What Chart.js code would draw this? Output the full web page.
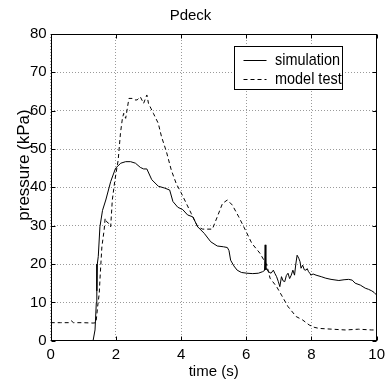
<!DOCTYPE html>
<html><head><meta charset="utf-8">
<script src="https://cdn.jsdelivr.net/npm/chart.js@4/dist/chart.umd.min.js"></script>
<style>html,body{margin:0;padding:0;background:#fff;}#wrap{width:390px;height:382px;}</style>
</head><body><div id="wrap"><canvas id="c" width="390" height="382"></canvas></div>
<script>
const TITLE = 'Pdeck';
const X_LABEL = 'time (s)';
const Y_LABEL = 'pressure (kPa)';
const SERIES_NAMES = ['simulation', 'model test'];
const X_TICKS = [0, 2, 4, 6, 8, 10];
const Y_TICKS = [0, 10, 20, 30, 40, 50, 60, 70, 80];

const simTime = [0, 1.3, 1.36, 1.40, 1.41, 1.42, 1.43, 1.46, 1.51, 1.59, 1.69, 1.84, 1.99, 2.15, 2.3, 2.45, 2.6, 2.75, 2.85, 2.95, 3.1, 3.3, 3.5, 3.65, 3.75, 3.9, 4.05, 4.2, 4.36, 4.51, 4.71, 4.91, 5.11, 5.3, 5.42, 5.47, 5.52, 5.62, 5.72, 5.85, 6.02, 6.2, 6.37, 6.5, 6.56, 6.58, 6.6, 6.62, 6.68, 6.76, 6.83, 6.88, 6.93, 6.98, 7.03, 7.08, 7.13, 7.18, 7.23, 7.28, 7.33, 7.38, 7.43, 7.48, 7.52, 7.56, 7.61, 7.65, 7.68, 7.73, 7.78, 7.83, 7.87, 7.91, 7.95, 7.98, 8.05, 8.14, 8.3, 8.44, 8.6, 8.84, 9.0, 9.14, 9.25, 9.34, 9.5, 9.65, 9.75, 9.85, 9.92, 10];
const simPressure = [0, 0, 2.8, 10, 20, 13, 20, 22, 29.7, 34, 36.7, 41.5, 45, 46.3, 46.7, 46.7, 46.3, 45.2, 44.8, 44.8, 42, 40.3, 39.8, 39.3, 36.3, 34.8, 34.2, 32.8, 32.3, 29.7, 28, 25.8, 24.7, 24.5, 24.3, 23.5, 21, 19.5, 18.4, 17.8, 17.6, 17.5, 17.6, 18, 18.3, 25, 18.5, 18.8, 18, 17.6, 18.4, 17.5, 16.7, 15.5, 14.1, 16.7, 15.6, 15.4, 17, 17.6, 16.2, 17.1, 18.4, 17.1, 20, 22.3, 21.5, 20.6, 18.9, 19.7, 18.5, 18.4, 18.8, 18, 17.6, 17.1, 17.4, 17.1, 16.7, 16.3, 16, 15.7, 15.9, 16, 15.8, 15, 14.5, 13.7, 13.4, 13, 12.6, 11.9];

const testTime = [0, 0.3, 0.55, 0.63, 0.7, 1.0, 1.3, 1.39, 1.44, 1.49, 1.51, 1.57, 1.64, 1.67, 1.72, 1.78, 1.84, 1.89, 1.97, 2.07, 2.14, 2.2, 2.24, 2.3, 2.4, 2.5, 2.58, 2.65, 2.75, 2.85, 2.95, 3.0, 3.08, 3.15, 3.3, 3.4, 3.55, 3.7, 3.85, 4.0, 4.15, 4.31, 4.51, 4.66, 4.96, 5.11, 5.27, 5.42, 5.57, 5.77, 5.97, 6.17, 6.42, 6.63, 6.73, 6.93, 7.08, 7.28, 7.53, 7.73, 7.93, 8.08, 8.24, 8.64, 9.04, 9.44, 9.85, 10];
const testPressure = [4.7, 4.7, 4.7, 5.2, 4.7, 4.7, 4.6, 4.7, 8.9, 12.4, 15.8, 24.5, 28.9, 31.9, 31, 30.6, 29.7, 36.7, 41.9, 47.1, 54.1, 58, 59.3, 58, 63.2, 63.2, 62.8, 62.8, 63.6, 61.9, 64.1, 61.9, 60.5, 59.3, 56.7, 53.2, 49.3, 44.5, 41, 38.6, 36, 33.2, 29.7, 29.1, 29.1, 32.3, 35.8, 36.7, 35.4, 32.3, 28.9, 25.4, 22.8, 19.7, 16.3, 14.1, 11.9, 8.9, 6.3, 5.4, 4.1, 3.5, 3.2, 3.0, 2.8, 3.0, 2.8, 2.8];

const FONT = "'Liberation Sans', Arial, Helvetica, sans-serif";

const toPts = (xs, ys) => xs.map((x, i) => ({x: x, y: ys[i]}));

const framePlugin = {
  id: 'frame',
  afterDatasetsDraw(chart) {
    const ctx = chart.ctx, a = chart.chartArea;
    const xs = chart.scales.x, ys = chart.scales.y;
    const L = Math.round(a.left) + 0.5, R = Math.round(a.right) - 0.5;
    const T = Math.round(a.top) + 0.5, B = Math.round(a.bottom) - 0.5;
    ctx.save();
    ctx.strokeStyle = '#000'; ctx.lineWidth = 1; ctx.setLineDash([]);
    ctx.strokeRect(L, T, R - L, B - T);
    const tl = 4;
    ctx.beginPath();
    X_TICKS.forEach(v => {
      const px = Math.round(xs.getPixelForValue(v)) + 0.5;
      ctx.moveTo(px, B); ctx.lineTo(px, B - tl);
      ctx.moveTo(px, T); ctx.lineTo(px, T + tl);
    });
    Y_TICKS.forEach(v => {
      const py = Math.round(ys.getPixelForValue(v)) + 0.5;
      ctx.moveTo(L, py); ctx.lineTo(L + tl, py);
      ctx.moveTo(R, py); ctx.lineTo(R - tl, py);
    });
    ctx.stroke();

    // legend box
    const bw = 108, bh = 43;
    const bx = Math.round(a.right - 35 - bw) + 0.5, by = Math.round(a.top + 12) + 0.5;
    ctx.fillStyle = '#fff';
    ctx.fillRect(bx, by, bw, bh);
    ctx.strokeRect(bx, by, bw, bh);
    ctx.fillStyle = '#000';
    ctx.textBaseline = 'middle';
    ctx.textAlign = 'left';
    const rows = [13.3, 32.7];
    chart.data.datasets.forEach((ds, i) => {
      const ry = Math.round(by + rows[i]) + 0.5;
      ctx.beginPath();
      ctx.setLineDash(ds.borderDash || []);
      ctx.moveTo(bx + 9, ry); ctx.lineTo(bx + 32, ry);
      ctx.stroke();
      ctx.setLineDash([]);
      ctx.save();
      ctx.translate(bx + 40.5, ry);
      ctx.scale(0.85, 1);
      ctx.font = '17px ' + FONT;
      ctx.fillText(ds.label, 0, 0);
      ctx.restore();
    });

    // y axis label
    ctx.save();
    ctx.translate(24, 165);
    ctx.rotate(-Math.PI / 2);
    ctx.font = '17px ' + FONT;
    ctx.textAlign = 'center';
    ctx.textBaseline = 'middle';
    ctx.fillText(Y_LABEL, 0, 0);
    ctx.restore();
    ctx.restore();
  }
};

new Chart(document.getElementById('c'), {
  type: 'line',
  data: {
    datasets: [
      {label: SERIES_NAMES[0], data: toPts(simTime, simPressure), borderColor: '#000', borderWidth: 1, pointRadius: 0, tension: 0, fill: false},
      {label: SERIES_NAMES[1], data: toPts(testTime, testPressure), borderColor: '#000', borderWidth: 1, borderDash: [4, 3], pointRadius: 0, tension: 0, fill: false}
    ]
  },
  options: {
    responsive: false,
    devicePixelRatio: 1,
    animation: false,
    layout: {padding: {left: 0, right: 9, top: 0, bottom: 0}},
    plugins: {
      legend: {display: false},
      tooltip: {enabled: false},
      title: {display: true, text: TITLE, color: '#000', font: {family: FONT, size: 15, weight: 'normal'}, padding: {top: 7, bottom: 9}}
    },
    scales: {
      x: {
        type: 'linear', min: 0, max: 10,
        afterBuildTicks: s => { s.ticks = X_TICKS.map(v => ({value: v})); },
        ticks: {color: '#000', font: {family: FONT, size: 15}, padding: 5, maxRotation: 0, autoSkip: false},
        grid: {color: '#9a9a9a', drawTicks: false, lineWidth: 1},
        border: {display: false, dash: [1, 2]},
        title: {display: true, text: X_LABEL, color: '#000', font: {family: FONT, size: 15}, padding: {top: 0, bottom: 1}},
        afterFit: s => { s.height = 41.3; }
      },
      y: {
        type: 'linear', min: 0, max: 80,
        afterBuildTicks: s => { s.ticks = Y_TICKS.map(v => ({value: v})); },
        ticks: {color: '#000', font: {family: FONT, size: 15}, padding: 4, autoSkip: false},
        grid: {color: '#9a9a9a', drawTicks: false, lineWidth: 1},
        border: {display: false, dash: [1, 2]},
        afterFit: s => { s.width = 50.7; }
      }
    }
  },
  plugins: [framePlugin]
});
</script></body></html>
